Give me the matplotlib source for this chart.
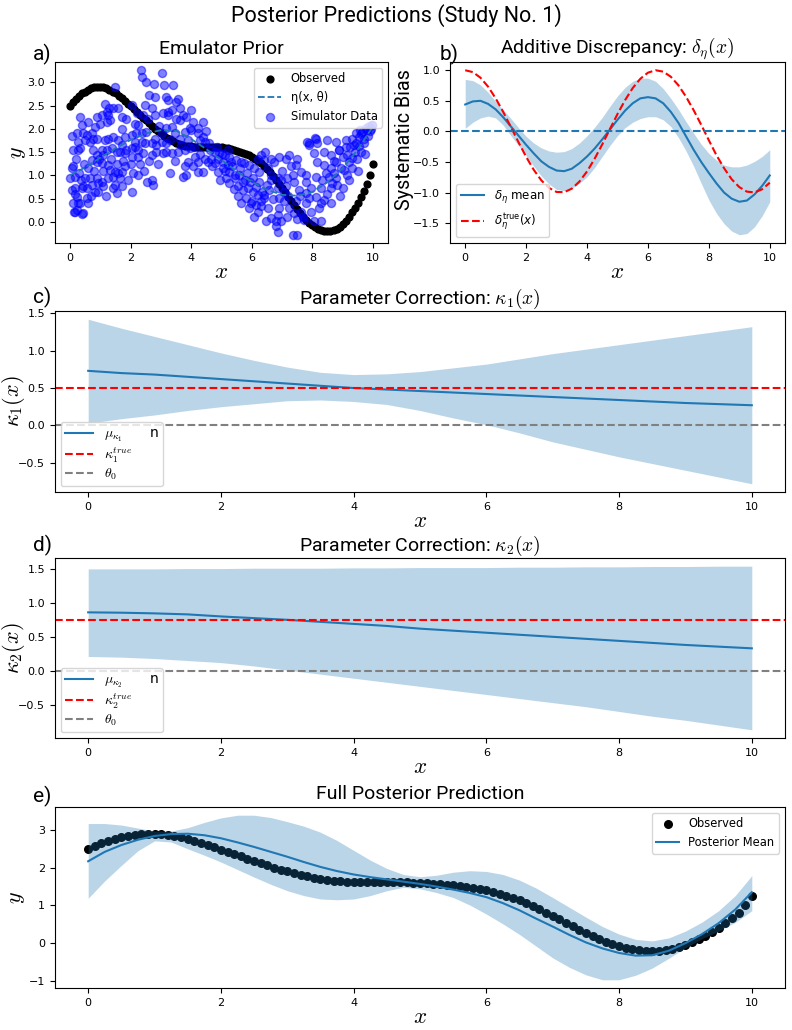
import numpy as np
import matplotlib.pyplot as plt

# ---- data ----
# observed field data, x = 0 .. 10 step 0.1
obs_y = [2.50, 2.58, 2.65, 2.71, 2.76, 2.80, 2.84, 2.87, 2.89, 2.90,
         2.90, 2.89, 2.87, 2.84, 2.80, 2.76, 2.71, 2.66, 2.60, 2.54,
         2.48, 2.42, 2.36, 2.30, 2.24, 2.18, 2.12, 2.06, 2.00, 1.95,
         1.90, 1.85, 1.81, 1.77, 1.73, 1.70, 1.68, 1.66, 1.64, 1.63,
         1.62, 1.61, 1.61, 1.61, 1.61, 1.61, 1.61, 1.61, 1.61, 1.60,
         1.60, 1.59, 1.58, 1.57, 1.55, 1.53, 1.51, 1.49, 1.46, 1.43,
         1.40, 1.36, 1.31, 1.26, 1.20, 1.14, 1.06, 0.98, 0.90, 0.81,
         0.72, 0.63, 0.54, 0.45, 0.36, 0.27, 0.19, 0.11, 0.04, -0.02,
         -0.08, -0.12, -0.16, -0.18, -0.20, -0.20, -0.20, -0.18, -0.15, -0.11,
         -0.05, 0.02, 0.10, 0.20, 0.30, 0.41, 0.53, 0.66, 0.81, 1.00,
         1.24]
x_obs = np.linspace(0, 10, 101)

# emulator eta(x, theta), x = 0 .. 10 step 0.5
eta_y = [1.00, 1.17, 1.38, 1.58, 1.76, 1.90, 1.97, 1.96, 1.78, 1.56,
         1.33, 1.09, 0.86, 0.69, 0.58, 0.56, 0.64, 0.85, 1.15, 1.55, 2.05]
x_half = np.linspace(0, 10, 21)

# simulator runs (x, y)
sim_pts = [
    (2.34, 3.26), (2.38, 3.11), (2.50, 3.01), (2.77, 2.97), (3.02, 3.19), (3.10, 2.94),
    (1.48, 2.90), (2.61, 2.72), (2.80, 2.69), (3.18, 2.69), (1.15, 2.54), (1.59, 2.45),
    (1.43, 2.44), (2.03, 2.51), (1.21, 2.36), (1.04, 2.29), (0.88, 2.26), (1.26, 2.29),
    (0.99, 2.11), (1.21, 2.15), (1.32, 2.19), (2.47, 2.51), (2.69, 2.44), (2.80, 2.29),
    (2.58, 2.22), (2.41, 2.29), (3.07, 2.33), (3.23, 2.36), (0.33, 2.26), (0.38, 2.08),
    (0.60, 2.15), (0.82, 2.04), (1.70, 2.26), (1.86, 2.22), (2.14, 2.11), (2.25, 2.08),
    (0.22, 1.90), (0.44, 1.90), (0.55, 1.86), (0.71, 1.90), (0.66, 1.72), (0.77, 1.79),
    (0.49, 1.76), (0.27, 1.72), (0.33, 1.58), (0.27, 1.54), (0.88, 1.79), (1.15, 1.76),
    (1.26, 1.79), (1.43, 1.83), (1.59, 1.76), (1.81, 1.83), (2.03, 1.86), (2.19, 1.90),
    (2.36, 1.90), (2.52, 1.94), (1.04, 1.54), (1.21, 1.54), (1.37, 1.58), (1.70, 1.65),
    (1.54, 1.51), (1.86, 1.54), (2.03, 1.58), (2.25, 1.54), (2.47, 1.69), (2.14, 1.72),
    (2.36, 1.72), (2.69, 1.69), (2.85, 1.65), (3.02, 1.72), (3.18, 1.69), (2.80, 1.79),
    (3.07, 1.47), (2.85, 1.51), (2.69, 1.44), (2.41, 1.47), (2.25, 1.40), (2.03, 1.40),
    (1.81, 1.47), (1.64, 1.51), (0.77, 1.54), (0.88, 1.44), (1.10, 1.44), (0.71, 1.33),
    (0.88, 1.29), (1.04, 1.26), (0.11, 1.19), (0.05, 1.15), (0.16, 0.97), (0.00, 0.94),
    (1.26, 1.22), (1.32, 1.11), (1.48, 1.08), (1.59, 1.04), (1.70, 1.08), (1.81, 1.19),
    (1.43, 0.97), (1.26, 0.94), (1.64, 0.94), (2.08, 1.04), (2.25, 1.01), (2.69, 0.90),
    (2.74, 0.79), (1.04, 0.86), (0.66, 0.94), (0.88, 0.94), (0.93, 0.83), (0.16, 0.72),
    (0.05, 0.69), (0.38, 0.72), (0.55, 0.72), (0.44, 0.76), (0.71, 0.79), (0.82, 0.65),
    (0.93, 0.65), (1.43, 0.72), (1.48, 0.79), (1.70, 0.76), (1.10, 0.76), (1.54, 0.61),
    (2.03, 0.65), (0.22, 0.54), (0.11, 0.40), (0.27, 0.40), (0.55, 0.51), (0.60, 0.40),
    (0.16, 0.22), (0.38, 0.16), (0.22, 0.26), (0.13, 0.21), (0.42, 0.18), (0.31, 0.41),
    (3.40, 2.94), (3.24, 2.61), (3.51, 2.58), (3.56, 2.65), (3.35, 2.40), (3.62, 2.44),
    (3.73, 2.29), (4.00, 2.40), (3.84, 2.26), (3.62, 2.19), (4.06, 2.15), (4.22, 2.01),
    (4.39, 2.15), (3.95, 2.01), (3.24, 2.29), (3.35, 2.04), (3.18, 2.01), (3.45, 1.90),
    (3.62, 1.79), (3.78, 1.94), (4.00, 1.97), (4.22, 1.90), (4.39, 1.83), (4.44, 1.72),
    (4.28, 1.76), (3.18, 1.51), (3.35, 1.47), (3.56, 1.51), (3.78, 1.54), (3.95, 1.58),
    (4.11, 1.40), (4.22, 1.29), (3.89, 1.29), (3.78, 1.19), (3.73, 0.97), (3.84, 1.01),
    (4.22, 1.08), (4.39, 1.08), (4.55, 1.29), (4.66, 1.36), (4.77, 1.26), (4.88, 1.36),
    (5.04, 1.29), (5.21, 1.22), (5.32, 1.29), (5.48, 1.33), (5.64, 1.29), (5.75, 1.26),
    (5.92, 1.22), (6.09, 1.15), (6.25, 1.08), (6.30, 1.44), (6.41, 1.33), (6.63, 1.36),
    (6.74, 1.29), (6.52, 1.15), (6.63, 0.90), (4.61, 1.54), (4.77, 1.51), (4.93, 1.47),
    (5.10, 1.44), (5.26, 1.40), (4.88, 1.08), (5.04, 1.15), (5.26, 1.08), (5.43, 1.01),
    (5.59, 1.01), (5.76, 0.90), (5.53, 0.76), (5.70, 0.69), (5.87, 0.72), (6.03, 0.65),
    (6.20, 0.58), (6.30, 0.44), (6.41, 0.51), (5.81, 0.51), (5.97, 0.40), (6.14, 0.36),
    (6.30, 0.33), (6.52, 0.29), (6.63, 0.08), (6.80, 0.01), (6.47, 0.01), (6.09, 0.11),
    (6.85, -0.21), (6.41, 0.58), (6.58, 0.69), (5.15, 0.94), (5.26, 0.83), (6.63, 1.01),
    (6.85, 0.94), (6.91, 1.40), (7.13, 1.36), (7.29, 1.19), (7.46, 1.22), (7.24, 1.44),
    (7.51, 1.36), (7.62, 1.08), (7.78, 1.01), (6.96, 0.90), (7.18, 0.94), (6.85, 0.72),
    (7.13, 0.76), (7.40, 0.86), (7.57, 0.69), (6.91, 0.51), (7.07, 0.44), (7.24, 0.29),
    (7.40, 0.19), (6.85, 0.15), (6.96, 0.01), (6.80, -0.10), (7.35, -0.28), (7.51, -0.28),
    (7.84, 1.72), (7.89, 1.65), (8.17, 1.69), (8.11, 1.79), (8.50, 1.76), (8.77, 1.72),
    (8.39, 1.51), (8.06, 1.47), (8.61, 1.44), (8.88, 1.54), (9.10, 1.61), (9.32, 1.79),
    (9.43, 1.90), (9.65, 1.94), (9.81, 1.97), (9.97, 2.08), (9.54, 1.83), (9.71, 1.79),
    (9.38, 1.65), (9.16, 1.44), (9.21, 1.29), (8.17, 1.29), (8.39, 1.22), (8.61, 1.15),
    (8.77, 1.29), (8.94, 1.15), (8.11, 0.97), (8.33, 0.90), (8.55, 0.97), (8.77, 0.94),
    (8.83, 0.79), (8.61, 0.72), (8.28, 0.72), (7.95, 0.72), (7.78, 0.61), (7.89, 0.51),
    (8.11, 0.54), (8.39, 0.47), (8.61, 0.40), (8.22, 0.29), (7.95, 0.22), (7.79, 0.40),
    (9.00, 0.72), (7.62, 0.22), (7.73, 0.04), (8.06, 0.01), (8.28, 0.01), (8.72, 1.05),
    (9.05, 1.12), (9.16, 1.01), (9.32, 1.37), (9.48, 1.34), (8.66, 0.84), (8.28, 0.41),
    (8.88, 1.55), (9.10, 1.76), (9.59, 1.98), (9.76, 2.01), (9.87, 2.05), (9.98, 2.09),
    (8.09, 1.80), (7.90, 1.69), (9.40, 1.50), (9.55, 1.62), (9.70, 1.70), (9.85, 1.85),
    (9.90, 1.95), (9.62, 1.88), (9.45, 1.70), (9.25, 1.60), (9.95, 2.00), (7.70, 0.10),
    (0.05, 1.85), (0.10, 1.55), (0.20, 1.35), (0.30, 1.05), (0.45, 1.25), (0.50, 0.95),
    (0.60, 1.15), (0.70, 0.55), (0.80, 1.10), (0.95, 1.35), (0.35, 0.90), (0.15, 0.60),
    (1.10, 1.10), (1.20, 0.55), (1.35, 1.35), (1.55, 1.25), (1.75, 1.30), (1.90, 0.90),
    (2.00, 1.25), (2.15, 1.60), (2.30, 1.25), (2.45, 1.10), (2.55, 0.85), (2.60, 1.30),
    (2.90, 1.25), (2.95, 2.05), (3.05, 1.90), (1.30, 2.45), (1.70, 2.00), (2.20, 2.35),
    (3.30, 1.75), (3.50, 2.20), (3.65, 1.65), (3.90, 1.75), (4.10, 1.60), (4.30, 1.45),
    (4.45, 1.35), (4.05, 1.20), (3.45, 1.30), (3.30, 1.05), (4.50, 1.95), (4.60, 1.70),
    (4.70, 1.20), (4.85, 1.60), (5.00, 1.45), (5.10, 1.10), (5.20, 1.55), (5.35, 1.20),
    (5.45, 0.95), (5.60, 1.15), (5.70, 0.85), (5.85, 1.05), (5.95, 0.85), (6.05, 0.95),
    (6.15, 0.75), (6.25, 0.85), (6.35, 0.65), (6.50, 0.80), (5.55, 0.55), (5.90, 0.30),
    (6.20, 0.20), (6.00, 0.45), (5.65, 0.40), (4.95, 0.90), (5.40, 0.70), (6.45, 1.50),
    (6.20, 1.35), (6.70, 0.50), (6.90, 0.30), (7.05, 0.65), (7.20, 0.55), (7.45, 0.45),
    (7.60, 0.55), (7.15, 0.10), (7.50, 0.05), (7.80, 0.85), (7.00, 1.10), (7.35, 1.00),
    (8.45, 1.05), (8.70, 1.30), (9.00, 1.40), (9.30, 1.15), (9.60, 1.50), (9.75, 1.45),
    (9.50, 1.10), (8.90, 0.55), (9.20, 0.90), (8.50, 0.60),
]

# additive discrepancy, x = 0 .. 10 step 0.25
x_q = np.linspace(0, 10, 41)
delta_mean = [0.44, 0.49, 0.50, 0.45, 0.36, 0.23, 0.08, -0.07, -0.22, -0.36,
              -0.49, -0.58, -0.64, -0.65, -0.61, -0.52, -0.41, -0.28, -0.13, 0.03,
              0.19, 0.34, 0.46, 0.54, 0.56, 0.54, 0.46, 0.32, 0.14, -0.08,
              -0.30, -0.50, -0.68, -0.85, -1.00, -1.10, -1.15, -1.13, -1.03, -0.89,
              -0.72]
delta_hi = [0.85, 0.83, 0.76, 0.64, 0.49, 0.35, 0.21, 0.06, -0.08, -0.19,
            -0.27, -0.32, -0.34, -0.33, -0.28, -0.19, -0.07, 0.07, 0.23, 0.41,
            0.58, 0.72, 0.82, 0.87, 0.87, 0.82, 0.70, 0.54, 0.36, 0.16,
            -0.03, -0.21, -0.36, -0.47, -0.55, -0.58, -0.58, -0.55, -0.49, -0.41,
            -0.30]
delta_lo = [0.05, 0.15, 0.22, 0.25, 0.22, 0.10, -0.07, -0.23, -0.40, -0.57,
            -0.73, -0.86, -0.95, -0.97, -0.93, -0.85, -0.74, -0.59, -0.41, -0.23,
            -0.07, 0.06, 0.15, 0.21, 0.24, 0.24, 0.19, 0.08, -0.10, -0.32,
            -0.57, -0.85, -1.12, -1.34, -1.51, -1.63, -1.69, -1.67, -1.56, -1.38,
            -1.15]
delta_true = [1.000, 0.969, 0.878, 0.732, 0.540, 0.315, 0.071, -0.178, -0.416, -0.628,
              -0.801, -0.924, -0.990, -0.994, -0.936, -0.820, -0.654, -0.446, -0.211, 0.037,
              0.284, 0.512, 0.709, 0.861, 0.960, 1.000, 0.977, 0.894, 0.754, 0.567,
              0.347, 0.107, -0.146, -0.390, -0.602, -0.783, -0.911, -0.985, -0.997, -0.946,
              -0.839]

# parameter corrections, x = 0 .. 10 step 0.5
k1_mean = [0.73, 0.70, 0.68, 0.65, 0.62, 0.59, 0.56, 0.53, 0.50, 0.48, 0.46,
           0.44, 0.42, 0.40, 0.38, 0.36, 0.34, 0.32, 0.30, 0.285, 0.27]
k1_hi = [1.42, 1.30, 1.19, 1.08, 0.97, 0.87, 0.78, 0.71, 0.68, 0.69, 0.72,
         0.77, 0.82, 0.89, 0.96, 1.02, 1.08, 1.14, 1.20, 1.26, 1.32]
k1_lo = [0.03, 0.09, 0.14, 0.20, 0.25, 0.29, 0.33, 0.34, 0.32, 0.28, 0.20,
         0.10, 0.01, -0.10, -0.22, -0.32, -0.42, -0.51, -0.60, -0.69, -0.78]
k1_true = 0.5

k2_mean = [0.86, 0.855, 0.845, 0.83, 0.80, 0.775, 0.75, 0.72, 0.69, 0.66, 0.62,
           0.59, 0.56, 0.53, 0.50, 0.47, 0.44, 0.41, 0.38, 0.355, 0.33]
k2_hi = [1.50, 1.50, 1.50, 1.505, 1.505, 1.51, 1.51, 1.51, 1.515, 1.515, 1.52,
         1.52, 1.52, 1.525, 1.525, 1.53, 1.53, 1.535, 1.535, 1.54, 1.54]
k2_lo = [0.21, 0.20, 0.18, 0.15, 0.12, 0.07, 0.01, -0.05, -0.11, -0.17, -0.23,
         -0.29, -0.35, -0.41, -0.47, -0.53, -0.60, -0.67, -0.73, -0.80, -0.87]
k2_true = 0.75
theta0 = 0.0

# full posterior, x = 0 .. 10 step 0.25
post_mean = [2.17, 2.42, 2.60, 2.74, 2.84, 2.89, 2.90, 2.86, 2.78, 2.67,
             2.55, 2.42, 2.29, 2.15, 2.02, 1.91, 1.82, 1.75, 1.69, 1.63,
             1.57, 1.50, 1.42, 1.33, 1.22, 1.06, 0.87, 0.65, 0.44, 0.22,
             0.02, -0.14, -0.26, -0.33, -0.32, -0.20, 0.00, 0.24, 0.53, 0.89,
             1.35]
post_hi = [3.17, 3.17, 3.13, 3.05, 2.97, 2.97, 3.06, 3.20, 3.32, 3.39,
           3.39, 3.33, 3.22, 3.10, 2.94, 2.72, 2.46, 2.20, 1.98, 1.82,
           1.76, 1.80, 1.88, 1.92, 1.90, 1.82, 1.67, 1.46, 1.21, 0.95,
           0.69, 0.44, 0.24, 0.10, 0.06, 0.14, 0.32, 0.56, 0.86, 1.26,
           1.79]
post_lo = [1.19, 1.65, 2.06, 2.45, 2.71, 2.68, 2.50, 2.33, 2.15, 1.95,
           1.75, 1.56, 1.39, 1.26, 1.17, 1.15, 1.17, 1.26, 1.39, 1.48,
           1.44, 1.34, 1.21, 1.01, 0.77, 0.51, 0.23, -0.08, -0.39, -0.64,
           -0.84, -0.97, -0.97, -0.85, -0.66, -0.40, -0.12, 0.12, 0.32, 0.55,
           0.86]

# ---- figure ----
W, H = 792, 1030
fig = plt.figure(figsize=(W / 100, H / 100), dpi=100)
tfont = 'Roboto'
tick_fs = 8
title_fs = 14

def box(l, t, r, b):
    return [l / W, 1 - b / H, (r - l) / W, (b - t) / H]

def mathlabel(ax, xl=None, yl=None, ylx=None):
    if xl:
        ax.set_xlabel(xl, fontsize=16.5, math_fontfamily='cm', labelpad=-2)
    if yl:
        ax.set_ylabel(yl, fontsize=16, math_fontfamily='cm')
        ax.yaxis.set_label_coords(ylx, 0.5)
    ax.tick_params(labelsize=tick_fs)

fig.text(0.5, 1 - 22 / H, 'Posterior Predictions (Study No. 1)',
         ha='center', va='baseline', fontsize=15.5, family=tfont)

# a) emulator prior
ax = fig.add_axes(box(55, 62, 388, 243))
ax.scatter(x_obs, obs_y, color='black', s=24, label='Observed')
ax.plot(x_half, eta_y, '--', color='C0', lw=1.3, label='η(x, θ)')
sx, sy = zip(*sim_pts)
ax.scatter(sx, sy, color='blue', alpha=0.5, s=34, label='Simulator Data')
ax.set_title('Emulator Prior', fontsize=title_fs, family=tfont)
ax.legend(loc='upper right', fontsize=8.3)
mathlabel(ax, '$x$', '$y$', (28 - 55) / 333)

# b) additive discrepancy
ax = fig.add_axes(box(450, 62, 785, 243))
ax.fill_between(x_q, delta_lo, delta_hi, color='C0', alpha=0.3, lw=0)
ax.plot(x_q, delta_mean, color='C0', label=r'$\delta_\eta$ mean')
ax.plot(x_q, delta_true, 'r--', label=r'$\delta_\eta^{\mathrm{true}}(x)$')
ax.axhline(0, color='C0', ls='--')
ax.set_title(r'Additive Discrepancy: $\delta_\eta(x)$', fontsize=title_fs,
             family=tfont, math_fontfamily='cm')
ax.legend(loc='lower left', fontsize=8.5)
mathlabel(ax, '$x$')
ax.set_ylabel('Systematic Bias', fontsize=14.2, family=tfont)
ax.yaxis.set_label_coords((414 - 450) / 335, (243 - 140) / 181)

# c), d) parameter corrections
for i, (m, lo, hi, tv, top, bot) in enumerate([
        (k1_mean, k1_lo, k1_hi, k1_true, 311, 492),
        (k2_mean, k2_lo, k2_hi, k2_true, 558, 738)]):
    k = i + 1
    ax = fig.add_axes(box(55, top, 785, bot))
    ax.fill_between(x_half, lo, hi, color='C0', alpha=0.3, lw=0)
    ax.plot(x_half, m, color='C0', label=r'$\mu_{\kappa_%d}$' % k + '      n')
    ax.axhline(tv, color='red', ls='--', label=r'$\kappa_%d^{true}$' % k)
    ax.axhline(theta0, color='gray', ls='--', label=r'$\theta_0$')
    ax.set_title(r'Parameter Correction: $\kappa_%d(x)$' % k, fontsize=title_fs,
                 family=tfont, math_fontfamily='cm', pad=5)
    leg = ax.legend(loc='lower left', fontsize=10, handlelength=2.0,
                    borderaxespad=0.4, labelspacing=0.15, borderpad=0.3)
    for t in leg.get_texts():
        t.set_math_fontfamily('cm')
    mathlabel(ax, '$x$', r'$\kappa_%d(x)$' % k, (27 - 55) / 730)

# e) full posterior
ax = fig.add_axes(box(55, 807, 785, 988))
ax.scatter(x_obs, obs_y, color='black', s=30, label='Observed')
ax.fill_between(x_q, post_lo, post_hi, color='C0', alpha=0.3, lw=0)
ax.plot(x_q, post_mean, color='C0', label='Posterior Mean')
ax.set_title('Full Posterior Prediction', fontsize=title_fs, family=tfont)
ax.legend(loc='upper right', fontsize=8.3)
mathlabel(ax, '$x$', '$y$', (27 - 55) / 730)

# panel letters
for lab, x, y in [('a)', 33, 60), ('b)', 440, 60), ('c)', 33, 303),
                  ('d)', 33, 551), ('e)', 33, 802)]:
    fig.text(x / W, 1 - y / H, lab, fontsize=15, family=tfont, va='baseline')

fig.savefig('out.png', dpi=100)
